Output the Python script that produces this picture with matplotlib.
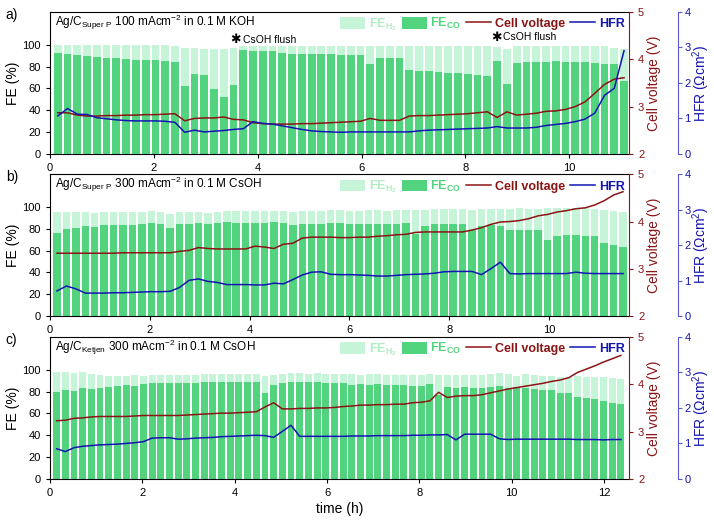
import matplotlib.pyplot as plt
import numpy as np
from matplotlib.patches import Patch
from matplotlib.lines import Line2D

plt.rcParams['font.family'] = ['Liberation Sans', 'DejaVu Sans']
plt.rcParams['mathtext.fontset'] = 'custom'
plt.rcParams['mathtext.rm'] = 'Liberation Sans'
plt.rcParams['mathtext.it'] = 'Liberation Sans:italic'
plt.rcParams['mathtext.bf'] = 'Liberation Sans:bold'

# a) Ag/C Super P, 100 mA/cm2, 0.1 M KOH  (one point every ~11 min)
co_a = [92.7, 91.4, 90.8, 89.9, 89.0, 88.1, 87.5, 87.2, 86.2, 85.9, 85.6, 84.7, 84.1,
        61.8, 72.8, 72.2, 59.3, 52.0, 63.3, 94.8, 94.5, 94.2, 93.9, 92.7, 91.7, 91.1,
        91.1, 91.1, 91.1, 90.8, 90.5, 90.5, 82.6, 87.8, 87.5, 87.5, 77.1, 76.1, 75.8,
        74.9, 73.7, 73.7, 73.1, 72.2, 71.6, 85.3, 64.2, 83.5, 84.1, 83.8, 84.1, 84.7,
        84.4, 84.1, 83.8, 83.2, 82.3, 82.0, 67.0]
tot_a = [99.5] * 12 + [98.5, 97.2, 96.6, 96.3, 95.7, 95.7, 97.0] + [99.2] * 26 + \
        [98.0, 96.0] + [98.8] * 10 + [97.0, 96.5]
volt_a = [2.87, 2.87, 2.82, 2.80, 2.80, 2.81, 2.81, 2.82, 2.82, 2.83, 2.83, 2.84, 2.85,
          2.70, 2.75, 2.76, 2.76, 2.78, 2.73, 2.72, 2.66, 2.64, 2.63, 2.63, 2.63, 2.64,
          2.64, 2.65, 2.66, 2.67, 2.68, 2.69, 2.75, 2.71, 2.71, 2.71, 2.80, 2.81, 2.81,
          2.82, 2.83, 2.84, 2.85, 2.87, 2.89, 2.77, 2.89, 2.82, 2.84, 2.86, 2.90, 2.91,
          2.94, 3.00, 3.10, 3.28, 3.47, 3.58, 3.61]
hfr_a = [1.07, 1.28, 1.12, 1.11, 1.02, 0.99, 0.96, 0.94, 0.93, 0.93, 0.93, 0.92, 0.89,
         0.61, 0.67, 0.62, 0.64, 0.66, 0.69, 0.71, 0.91, 0.86, 0.84, 0.79, 0.74, 0.69,
         0.65, 0.63, 0.62, 0.61, 0.62, 0.62, 0.62, 0.62, 0.62, 0.62, 0.62, 0.65, 0.67,
         0.68, 0.69, 0.70, 0.71, 0.72, 0.73, 0.77, 0.73, 0.73, 0.73, 0.75, 0.80, 0.83,
         0.86, 0.91, 0.98, 1.15, 1.65, 1.85, 2.91]

# b) Ag/C Super P, 300 mA/cm2, 0.1 M CsOH
co_b = [76.1, 80.1, 81.0, 82.3, 81.7, 83.5, 83.5, 83.8, 83.8, 84.7, 85.3, 84.7, 80.7,
        84.7, 84.7, 85.0, 84.4, 85.3, 85.9, 85.6, 85.6, 85.3, 85.3, 85.9, 85.6, 83.2,
        84.7, 84.7, 84.7, 85.0, 85.0, 84.7, 84.4, 84.7, 84.7, 84.4, 84.4, 85.0, 74.9,
        82.3, 84.1, 84.7, 84.7, 84.4, 78.9, 82.6, 83.8, 82.9, 78.6, 78.9, 79.2, 79.2,
        70.0, 73.1, 74.3, 74.3, 73.4, 73.1, 67.3, 64.8, 63.3]
tot_b = [95.1, 95.1, 95.1, 95.1, 94.2, 95.7, 95.4, 95.4, 95.4, 95.4, 96.0, 95.1, 93.6,
         95.4, 95.1, 95.1, 94.8, 95.1, 96.3, 96.0, 96.0, 96.0, 96.0, 96.0, 96.0, 95.1,
         96.3, 96.3, 96.3, 96.9, 96.9, 96.6, 96.3, 96.9, 96.9, 96.6, 97.2, 97.2, 97.2,
         97.2, 98.2, 98.2, 98.2, 98.2, 97.6, 98.2, 98.5, 98.5, 97.9, 98.8, 98.5, 98.5,
         99.1, 98.8, 98.8, 98.8, 98.8, 98.2, 97.6, 96.0, 95.7]
volt_b = [3.33, 3.33, 3.33, 3.33, 3.33, 3.33, 3.33, 3.34, 3.34, 3.34, 3.34, 3.34, 3.34,
          3.37, 3.39, 3.45, 3.43, 3.42, 3.42, 3.42, 3.42, 3.48, 3.46, 3.43, 3.52, 3.54,
          3.65, 3.67, 3.67, 3.67, 3.66, 3.66, 3.67, 3.67, 3.69, 3.70, 3.72, 3.73, 3.77,
          3.78, 3.78, 3.78, 3.78, 3.78, 3.82, 3.87, 3.94, 3.99, 4.00, 4.02, 4.06, 4.12,
          4.15, 4.20, 4.23, 4.27, 4.29, 4.35, 4.44, 4.56, 4.63]
hfr_b = [0.71, 0.85, 0.77, 0.65, 0.65, 0.65, 0.66, 0.66, 0.67, 0.68, 0.69, 0.69, 0.70,
         0.81, 1.01, 1.05, 0.98, 0.95, 0.89, 0.89, 0.89, 0.88, 0.88, 0.93, 0.91, 1.03,
         1.16, 1.24, 1.25, 1.18, 1.17, 1.17, 1.16, 1.15, 1.13, 1.13, 1.15, 1.17, 1.18,
         1.19, 1.21, 1.25, 1.26, 1.26, 1.26, 1.17, 1.34, 1.52, 1.20, 1.19, 1.20, 1.20,
         1.20, 1.20, 1.20, 1.24, 1.21, 1.20, 1.20, 1.20, 1.20]

# c) Ag/C Ketjen, 300 mA/cm2, 0.1 M CsOH
co_c = [79.8, 81.7, 80.4, 82.9, 82.6, 83.5, 84.4, 85.3, 85.9, 85.0, 86.5, 87.5, 87.8,
        87.8, 87.8, 87.8, 88.1, 88.4, 88.4, 88.4, 88.7, 88.4, 88.4, 89.0, 78.6, 86.2,
        88.1, 89.0, 89.0, 89.0, 89.0, 88.1, 87.5, 87.5, 85.9, 87.2, 85.9, 86.9, 85.9,
        85.9, 85.9, 85.3, 85.3, 86.5, 77.0, 83.8, 82.9, 83.8, 82.9, 82.9, 84.1, 84.7,
        83.2, 84.1, 82.9, 82.6, 81.0, 81.3, 78.3, 78.3, 74.9, 74.0, 72.8, 71.6, 69.4,
        68.2]
tot_c = [97.6, 97.6, 96.6, 98.2, 96.0, 94.8, 94.5, 94.5, 94.5, 95.1, 94.5, 94.8, 94.8,
         95.1, 95.1, 95.1, 95.4, 95.7, 95.7, 95.7, 95.7, 95.7, 95.7, 96.0, 94.2, 95.4,
         96.0, 96.9, 96.9, 96.3, 96.9, 96.3, 96.3, 96.0, 95.7, 94.8, 95.7, 96.0, 95.1,
         95.1, 94.8, 94.8, 94.8, 96.3, 95.1, 94.8, 95.1, 95.4, 95.1, 95.1, 95.7, 96.6,
         95.7, 94.2, 95.7, 95.4, 94.5, 94.2, 93.6, 93.3, 93.9, 93.3, 93.0, 93.3, 92.0,
         91.7]
volt_c = [3.23, 3.24, 3.28, 3.29, 3.31, 3.32, 3.32, 3.32, 3.32, 3.33, 3.34, 3.34, 3.34,
          3.34, 3.34, 3.35, 3.36, 3.37, 3.38, 3.39, 3.39, 3.40, 3.41, 3.42, 3.52, 3.61,
          3.48, 3.48, 3.49, 3.49, 3.50, 3.50, 3.51, 3.53, 3.54, 3.56, 3.56, 3.57, 3.57,
          3.58, 3.58, 3.61, 3.62, 3.65, 3.83, 3.72, 3.75, 3.76, 3.76, 3.78, 3.82, 3.86,
          3.90, 3.93, 3.96, 3.99, 4.02, 4.06, 4.09, 4.14, 4.25, 4.32, 4.39, 4.47, 4.54,
          4.61]
hfr_c = [0.85, 0.77, 0.88, 0.92, 0.94, 0.96, 0.97, 0.98, 1.00, 1.02, 1.05, 1.15, 1.16,
         1.16, 1.12, 1.13, 1.15, 1.16, 1.17, 1.19, 1.20, 1.21, 1.22, 1.23, 1.22, 1.17,
         1.34, 1.51, 1.20, 1.20, 1.20, 1.20, 1.20, 1.20, 1.21, 1.21, 1.21, 1.22, 1.22,
         1.22, 1.22, 1.23, 1.23, 1.24, 1.24, 1.25, 1.10, 1.26, 1.26, 1.26, 1.26, 1.13,
         1.11, 1.12, 1.12, 1.12, 1.12, 1.12, 1.12, 1.12, 1.11, 1.11, 1.11, 1.10, 1.11,
         1.11]

# sampling: first point and interval (h)
t0_a, dt_a = 0.15, 0.188
t0_b, dt_b = 0.14, 0.189
t0_c, dt_c = 0.144, 0.188

titles = [r'Ag/C$_{\mathrm{Super\ P}}$ 100 mAcm$^{-2}$ in 0.1 M KOH',
          r'Ag/C$_{\mathrm{Super\ P}}$ 300 mAcm$^{-2}$ in 0.1 M CsOH',
          r'Ag/C$_{\mathrm{Ketjen}}$ 300 mAcm$^{-2}$ in 0.1 M CsOH']
letters = ['a)', 'b)', 'c)']
xmaxs = [11.15, 11.6, 12.54]
flush_t = [3.58, 8.59]
flush_fe = [104.6, 106.7]

c_co = '#52d47f'
c_h2 = '#c6f4d9'
c_v = '#8b1414'
c_hfr = '#1414b4'
c_hfr_sp = '#5a5ad2'

fig = plt.figure(figsize=(7.14, 5.2), dpi=100)

data = [(t0_a, dt_a, co_a, tot_a, volt_a, hfr_a),
        (t0_b, dt_b, co_b, tot_b, volt_b, hfr_b),
        (t0_c, dt_c, co_c, tot_c, volt_c, hfr_c)]
bottoms = [0.704, 0.392, 0.079]

for k, (t0, dt, co, tot, volt, hfr) in enumerate(data):
    t = t0 + dt * np.arange(len(co))
    co = np.array(co)
    tot = np.array(tot)

    ax = fig.add_axes([0.070, bottoms[k], 0.811, 0.273])
    ax.bar(t, co, width=0.15, color=c_co, linewidth=0)
    ax.bar(t, tot - co, bottom=co, width=0.15, color=c_h2, linewidth=0)
    ax.set_xlim(0, xmaxs[k])
    ax.set_ylim(0, 130)
    ax.set_yticks([0, 20, 40, 60, 80, 100])
    ax.set_xticks(np.arange(0, xmaxs[k], 2))
    ax.tick_params(labelsize=8, length=3, direction='out')
    ax.set_ylabel('FE (%)', fontsize=10, labelpad=2)
    ax.spines['right'].set_visible(False)
    ax.text(0.009, 0.925, titles[k], transform=ax.transAxes, fontsize=8.5, va='center')
    fig.text(0.008, bottoms[k] + 0.268, letters[k], fontsize=10, va='center')

    axv = ax.twinx()
    axv.plot(t, volt, color=c_v, lw=1.1)
    axv.set_ylim(2, 5)
    axv.set_yticks([2, 3, 4, 5])
    axv.tick_params(labelsize=8, length=3, colors=c_v)
    axv.spines['right'].set_color(c_v)
    for s in ['left', 'top', 'bottom']:
        axv.spines[s].set_visible(False)
    axv.set_ylabel('Cell voltage (V)', fontsize=10, color=c_v, labelpad=2)

    axh = ax.twinx()
    axh.plot(t, hfr, color=c_hfr, lw=1.1)
    axh.set_ylim(0, 4)
    axh.set_yticks([0, 1, 2, 3, 4])
    axh.spines['right'].set_position(('outward', 35))
    axh.spines['right'].set_color(c_hfr_sp)
    for s in ['left', 'top', 'bottom']:
        axh.spines[s].set_visible(False)
    axh.tick_params(labelsize=8, length=3, pad=2, color=c_hfr_sp, labelcolor=c_hfr)
    axh.set_ylabel(r'HFR ($\Omega$cm$^2$)', fontsize=10, color=c_hfr, labelpad=0)

    handles = [Patch(color=c_h2, linewidth=0), Patch(color=c_co, linewidth=0),
               Line2D([], [], color=c_v, lw=1.1), Line2D([], [], color=c_hfr, lw=1.1)]
    labels = [r'FE$_{\mathbf{H_2}}$', r'FE$_{\mathbf{CO}}$', 'Cell voltage', 'HFR']
    leg = axh.legend(handles, labels, ncol=4, loc='upper right', bbox_to_anchor=(1.0, 1.0),
                     frameon=False, fontsize=9, handlelength=2.0, handleheight=1.0,
                     handletextpad=0.3, columnspacing=0.4, borderaxespad=0.15, borderpad=0.2,
                     labelcolor=['#b0ecc4', c_co, c_v, c_hfr],
                     prop={'weight': 'bold', 'size': 9})

    if k == 0:
        for tf, ff in zip(flush_t, flush_fe):
            ax.text(tf, ff, '\u2731', fontsize=9, ha='center', va='center',
                    family='DejaVu Sans')
            ax.text(tf + 0.13, ff, 'CsOH flush', fontsize=7.5, ha='left', va='center')
    if k == 2:
        ax.set_xlabel('time (h)', fontsize=10, labelpad=3)

fig.savefig('out.png', dpi=100)
